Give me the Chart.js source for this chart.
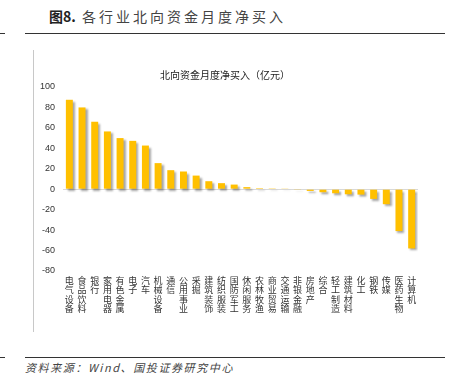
<!DOCTYPE html>
<html lang="zh">
<head>
  <meta charset="UTF-8">
  <title>各行业北向资金月度净买入</title>
  <script src="https://cdn.jsdelivr.net/npm/chart.js"></script>
  <style>
    body {
      margin: 0;
      width: 456px;
      height: 388px;
      position: relative;
      background: #fff;
      font-family: "Noto Sans CJK SC", sans-serif;
      overflow: hidden;
    }
    .hline {
      position: absolute;
      height: 1px;
      background: #333;
    }
    #titolo {
      position: absolute;
      left: 49px;
      top: 6px;
      font-size: 14px;
      letter-spacing: 3px;
      color: #444;
      white-space: nowrap;
    }
    #titolo b { letter-spacing: 0; color: #222; }
    #fonte {
      position: absolute;
      left: 25px;
      top: 359px;
      font-size: 11px;
      font-style: italic;
      letter-spacing: 1.6px;
      color: #444;
      white-space: nowrap;
    }
    #bordo {
      position: absolute;
      left: 33px;
      top: 50px;
      width: 1px;
      height: 282px;
      background: #c8c8c8;
    }
    #box {
      position: absolute;
      left: 32px;
      top: 63px;
      width: 402px;
      height: 255px;
    }
  </style>
</head>
<body>
  <div id="titolo"><b>图8.</b> 各行业北向资金月度净买入</div>
  <div class="hline" style="left:0;top:33px;width:5px"></div>
  <div class="hline" style="left:25px;top:33px;width:420px"></div>
  <div id="bordo"></div>
  <div id="box"><canvas id="grafico"></canvas></div>
  <div class="hline" style="left:0;top:357px;width:5px"></div>
  <div class="hline" style="left:25px;top:357px;width:420px"></div>
  <div id="fonte">资料来源：Wind、国投证券研究中心</div>

  <script>
    const settori = ['电气设备', '食品饮料', '银行', '家用电器', '有色金属', '电子', '汽车',
      '机械设备', '通信', '公用事业', '采掘', '建筑装饰', '纺织服装', '国防军工',
      '休闲服务', '农林牧渔', '商业贸易', '交通运输', '非银金融', '房地产', '综合',
      '轻工制造', '建筑材料', '化工', '钢铁', '传媒', '医药生物', '计算机'];
    const acquistoNetto = [87.5, 80, 66, 56.5, 50, 47.3, 42.7, 25.5, 18.6, 17.3, 13.3, 7.8, 5.9, 4.5,
      2, 1, 0.8, 0.3, -0.3, -1.7, -3, -4, -5, -5.3, -9.5, -14.7, -41, -58];
    const tickY = { min: -80, max: 100, step: 20 };
    const titoloGrafico = '北向资金月度净买入（亿元）';

    // ombra sotto le barre
    const ombra = {
      id: 'ombra',
      beforeDatasetsDraw(chart) {
        const c = chart.ctx;
        c.save();
        c.shadowColor = 'rgba(0,0,0,0.35)';
        c.shadowOffsetX = 2;
        c.shadowOffsetY = 2;
        c.shadowBlur = 2;
      },
      afterDatasetsDraw(chart) {
        chart.ctx.restore();
      }
    };

    const ctx = document.getElementById('grafico').getContext('2d');
    new Chart(ctx, {
      type: 'bar',
      data: {
        labels: settori.map(s => s.split('')),
        datasets: [{
          data: acquistoNetto,
          backgroundColor: '#FFC000',
          barPercentage: 0.55,
          categoryPercentage: 1
        }]
      },
      options: {
        responsive: true,
        maintainAspectRatio: false,
        animation: false,
        layout: { padding: { left: 0, right: 16, top: 0, bottom: 0 } },
        plugins: {
          legend: { display: false },
          tooltip: { enabled: false },
          title: {
            display: true,
            text: titoloGrafico,
            color: '#222',
            font: { family: '"Noto Sans CJK SC"', size: 10, weight: 'normal' },
            padding: { top: 6, bottom: 6 }
          }
        },
        scales: {
          x: {
            grid: { display: false, drawTicks: false },
            border: { display: false },
            ticks: {
              autoSkip: false,
              maxRotation: 0,
              color: '#333',
              padding: 5,
              font: { family: '"Noto Sans CJK SC"', size: 9, lineHeight: 1.03 }
            }
          },
          y: {
            min: tickY.min,
            max: tickY.max,
            border: { display: false },
            grid: {
              drawTicks: false,
              color: c => c.tick && c.tick.value === 0 ? '#d9d9d9' : 'transparent'
            },
            ticks: {
              stepSize: tickY.step,
              color: '#333',
              padding: 8,
              font: { family: '"Liberation Sans", Arial', size: 9 }
            }
          }
        }
      },
      plugins: [ombra]
    });
  </script>
</body>
</html>
